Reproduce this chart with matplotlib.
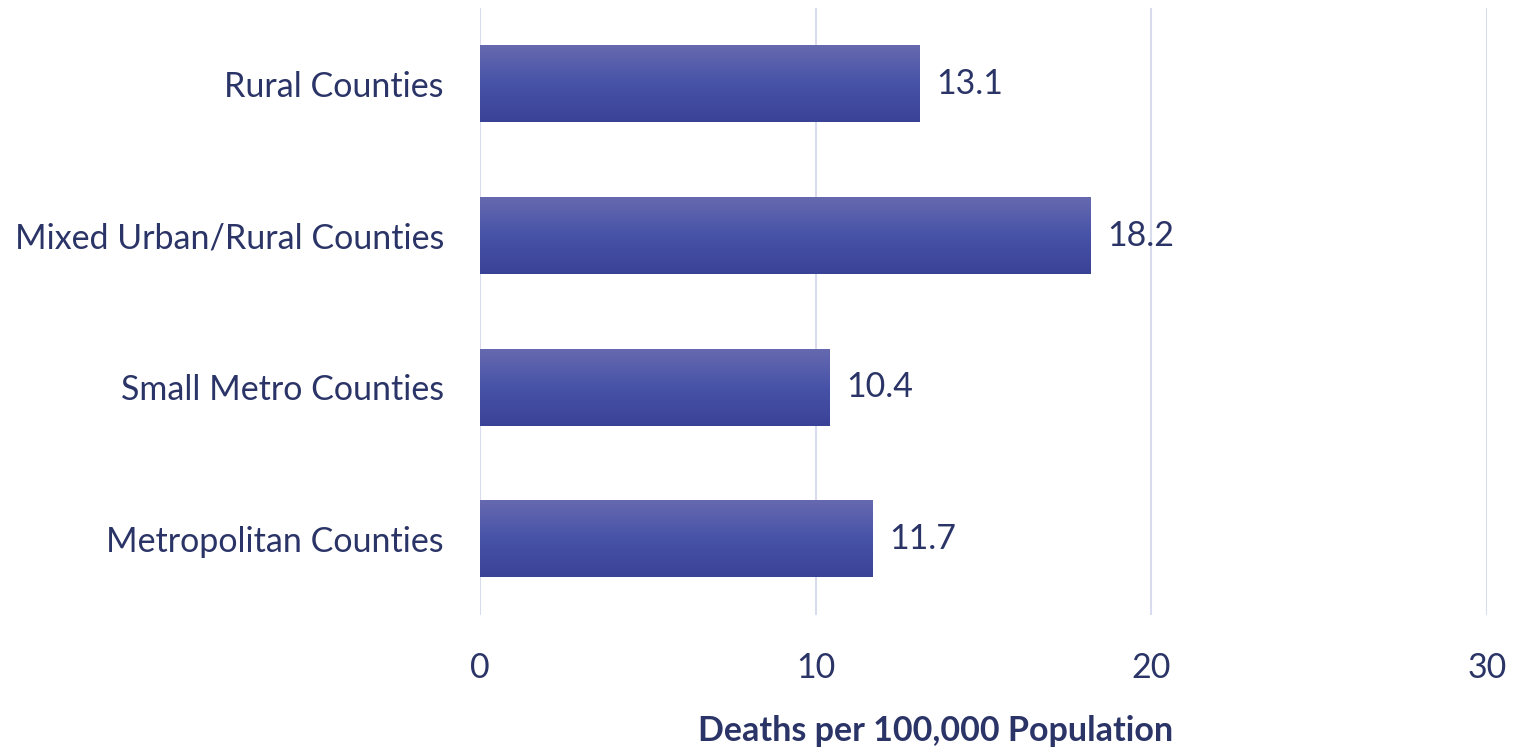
import matplotlib
matplotlib.use("Agg")
import matplotlib.pyplot as plt
import numpy as np
from matplotlib.colors import LinearSegmentedColormap

categories = ["Rural Counties", "Mixed Urban/Rural Counties", "Small Metro Counties", "Metropolitan Counties"]
values = [13.1, 18.2, 10.4, 11.7]
xticks = [0, 10, 20, 30]
xlabel = "Deaths per 100,000 Population"

plt.rcParams['font.family'] = ['Lato', 'DejaVu Sans']
text_color = "#2b3467"
grid_color = "#d9dbee"
fs = 24.5

fig = plt.figure(figsize=(15.22, 7.48), dpi=100)
ax = fig.add_axes([480/1522, 1-615/748, (1487-480)/1522, (615-8)/748])

y = np.arange(len(categories))
bars = ax.barh(y, values, height=0.505, color="none", edgecolor="none", zorder=3)

cmap = LinearSegmentedColormap.from_list("g", ["#6669af", "#4753a8", "#3a4296"])
grad = np.linspace(0, 1, 256).reshape(-1, 1)
for b in bars:
    x0, y0, w, h = b.get_x(), b.get_y(), b.get_width(), b.get_height()
    ax.imshow(grad, cmap=cmap, aspect="auto", extent=[x0, x0 + w, y0 + h, y0],
              origin="upper", zorder=3, interpolation="bicubic")

for yi, v in zip(y, values):
    ax.text(v + 0.5, yi, f"{v:.1f}", va="center", ha="left", fontsize=fs, color=text_color)

ax.set_xlim(0, 30)
ax.set_ylim(len(categories) - 0.5, -0.5)
ax.set_xticks(xticks)
ax.set_yticks(y)
ax.set_yticklabels(categories)
ax.tick_params(axis="both", length=0, labelsize=fs, labelcolor=text_color)
ax.tick_params(axis="y", pad=26)
ax.tick_params(axis="x", pad=27)
ax.grid(axis="x", color=grid_color, linewidth=1.5, zorder=0)
ax.set_axisbelow(True)
for s in ax.spines.values():
    s.set_visible(False)
ax.set_xlabel(xlabel, fontsize=fs, fontweight="bold", color=text_color, va="center")
ax.xaxis.set_label_coords((936 - 480) / 1007, (615 - 731) / 607)

fig.savefig("out.png", dpi=100)
